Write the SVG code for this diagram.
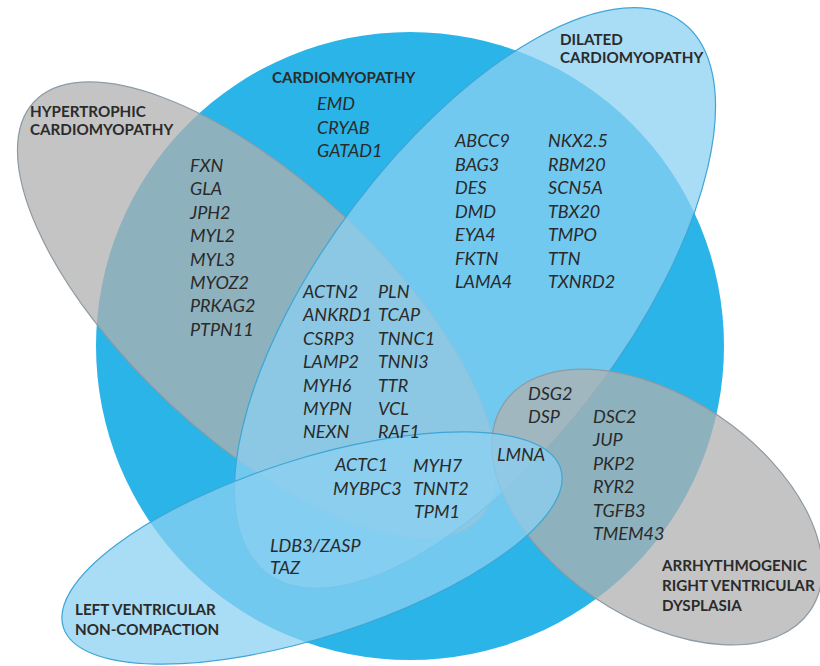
<svg xmlns="http://www.w3.org/2000/svg" width="820" height="666" viewBox="0 0 820 666">
<style>
.gray{fill:#b0b0b0;fill-opacity:0.75;stroke:#8d9ba4;stroke-width:1.2}
.blue{fill:#8bd0f2;fill-opacity:0.74;stroke:#3ea6d6;stroke-width:1.2}
.lbl{font-family:Lato,"Liberation Sans",sans-serif;font-weight:bold;font-size:15.2px;fill:#2b2b2b}
.gene{font-family:Lato,"Liberation Sans",sans-serif;font-style:italic;font-size:18px;fill:#2a2a2a}
</style>
<rect width="820" height="666" fill="#ffffff"/>
<g id="sets">
<g id="set-cardiomyopathy"><circle cx="410" cy="346" r="314" fill="#2ab4e8"/></g>
<g id="set-hcm"><ellipse class="gray" cx="0" cy="0" rx="305" ry="128" transform="translate(257,310) rotate(43)"/></g>
<g id="set-dcm"><ellipse class="blue" cx="0" cy="0" rx="345" ry="152" transform="translate(475,298) rotate(-53)"/></g>
<g id="set-arvd"><ellipse class="gray" cx="0" cy="0" rx="185" ry="110" transform="translate(657,507) rotate(34)"/></g>
<g id="set-lvnc"><ellipse class="blue" cx="0" cy="0" rx="261" ry="89" transform="translate(312,548) rotate(-17.7)"/></g>
</g>
<g id="connectors"/>
<g id="labels">
<text class="lbl" x="272" y="83">CARDIOMYOPATHY</text>
<text class="lbl" x="30" y="117">HYPERTROPHIC<tspan x="30" y="135">CARDIOMYOPATHY</tspan></text>
<text class="lbl" x="560" y="45">DILATED<tspan x="560" y="63">CARDIOMYOPATHY</tspan></text>
<text class="lbl" x="75" y="615">LEFT VENTRICULAR<tspan x="75" y="635">NON-COMPACTION</tspan></text>
<text class="lbl" x="662" y="571">ARRHYTHMOGENIC<tspan x="662" y="591">RIGHT VENTRICULAR</tspan><tspan x="662" y="611">DYSPLASIA</tspan></text>
</g>
<g id="genes">
<text class="gene" x="317" y="110">EMD<tspan x="317" dy="23.5">CRYAB</tspan><tspan x="317" dy="23.5">GATAD1</tspan></text>
<text class="gene" x="190" y="172">FXN<tspan x="190" dy="23.4">GLA</tspan><tspan x="190" dy="23.4">JPH2</tspan><tspan x="190" dy="23.4">MYL2</tspan><tspan x="190" dy="23.4">MYL3</tspan><tspan x="190" dy="23.4">MYOZ2</tspan><tspan x="190" dy="23.4">PRKAG2</tspan><tspan x="190" dy="23.4">PTPN11</tspan></text>
<text class="gene" x="303" y="298">ACTN2<tspan x="303" dy="23.4">ANKRD1</tspan><tspan x="303" dy="23.4">CSRP3</tspan><tspan x="303" dy="23.4">LAMP2</tspan><tspan x="303" dy="23.4">MYH6</tspan><tspan x="303" dy="23.4">MYPN</tspan><tspan x="303" dy="23.4">NEXN</tspan></text>
<text class="gene" x="378" y="298">PLN<tspan x="378" dy="23.4">TCAP</tspan><tspan x="378" dy="23.4">TNNC1</tspan><tspan x="378" dy="23.4">TNNI3</tspan><tspan x="378" dy="23.4">TTR</tspan><tspan x="378" dy="23.4">VCL</tspan><tspan x="378" dy="23.4">RAF1</tspan></text>
<text class="gene" x="335" y="471">ACTC1<tspan x="333" dy="23.5">MYBPC3</tspan></text>
<text class="gene" x="413" y="472">MYH7<tspan x="413" dy="23">TNNT2</tspan><tspan x="414" dy="23">TPM1</tspan></text>
<text class="gene" x="270" y="552">LDB3/ZASP<tspan x="270" dy="22">TAZ</tspan></text>
<text class="gene" x="455" y="147">ABCC9<tspan x="455" dy="23.5">BAG3</tspan><tspan x="455" dy="23.5">DES</tspan><tspan x="455" dy="23.5">DMD</tspan><tspan x="455" dy="23.5">EYA4</tspan><tspan x="455" dy="23.5">FKTN</tspan><tspan x="455" dy="23.5">LAMA4</tspan></text>
<text class="gene" x="548" y="147">NKX2.5<tspan x="548" dy="23.5">RBM20</tspan><tspan x="548" dy="23.5">SCN5A</tspan><tspan x="548" dy="23.5">TBX20</tspan><tspan x="548" dy="23.5">TMPO</tspan><tspan x="548" dy="23.5">TTN</tspan><tspan x="548" dy="23.5">TXNRD2</tspan></text>
<text class="gene" x="528" y="400">DSG2<tspan x="528" dy="23">DSP</tspan></text>
<text class="gene" x="593" y="423">DSC2<tspan x="593" dy="23.4">JUP</tspan><tspan x="593" dy="23.4">PKP2</tspan><tspan x="593" dy="23.4">RYR2</tspan><tspan x="593" dy="23.4">TGFB3</tspan><tspan x="593" dy="23.4">TMEM43</tspan></text>
<text class="gene" x="497" y="461">LMNA</text>
</g>
</svg>
